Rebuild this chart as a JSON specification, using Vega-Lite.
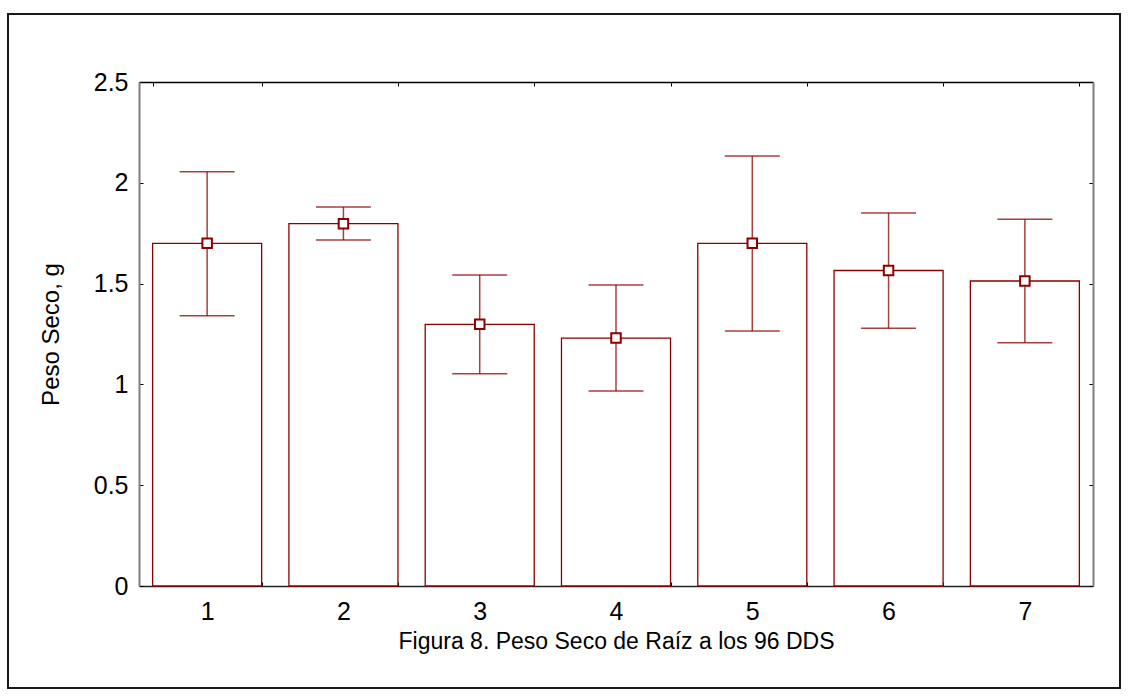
{
  "$schema": "https://vega.github.io/schema/vega-lite/v6.json",
  "autosize": "none",
  "width": 1112,
  "height": 674,
  "padding": {"left": 8, "top": 14, "right": 10, "bottom": 9},
  "background": "white",
  "config": {
    "view": {"stroke": "#1a1a1a", "strokeWidth": 2},
    "font": "Liberation Sans",
    "axis": {"labelFont": "Liberation Sans", "titleFont": "Liberation Sans", "labelColor": "#000", "titleColor": "#000", "titleFontWeight": "normal", "grid": false}
  },
  "data": {
    "values": [
      {"g": "1", "mean": 1.70, "lo": 1.340, "hi": 2.055},
      {"g": "2", "mean": 1.797, "lo": 1.716, "hi": 1.880},
      {"g": "3", "mean": 1.298, "lo": 1.053, "hi": 1.543},
      {"g": "4", "mean": 1.230, "lo": 0.967, "hi": 1.493},
      {"g": "5", "mean": 1.700, "lo": 1.265, "hi": 2.133},
      {"g": "6", "mean": 1.565, "lo": 1.278, "hi": 1.850},
      {"g": "7", "mean": 1.513, "lo": 1.207, "hi": 1.819}
    ]
  },
  "resolve": {"axis": {"x": "independent", "y": "independent"}},
  "layer": [
    {
      "mark": {"type": "bar", "fill": "white", "stroke": "#8b0000", "strokeWidth": 1.3},
      "encoding": {
        "x": {"field": "g", "type": "nominal", "sort": null,
          "scale": {"range": [131, 1085], "paddingInner": 0.2, "paddingOuter": 0.1},
          "axis": {"orient": "bottom", "offset": -102, "labelAngle": 0, "labelFontSize": 25, "labelPadding": 17,
            "tickBand": "extent", "tickSize": -4, "tickColor": "#000", "domainColor": "#222", "domainWidth": 1.5,
            "title": "Figura 8. Peso Seco de Raíz a los 96 DDS", "titleFontSize": 23, "titlePadding": 6}},
        "y": {"field": "mean", "type": "quantitative",
          "scale": {"domain": [0, 2.5], "range": [572, 68], "nice": false, "zero": true},
          "axis": {"orient": "left", "offset": -131, "values": [0, 0.5, 1, 1.5, 2, 2.5], "format": "~g",
            "labelFontSize": 25, "labelPadding": 15, "tickSize": -4, "tickColor": "#000",
            "domainColor": "#7f7f7f", "domainWidth": 2,
            "title": "Peso Seco, g", "titleFontSize": 24, "titlePadding": 30}}
      }
    },
    {
      "mark": {"type": "rule", "stroke": "#8b0000", "strokeWidth": 1.5, "opacity": 0.75},
      "encoding": {
        "x": {"field": "g", "type": "nominal", "sort": null,
          "axis": {"orient": "top", "offset": -68, "labels": false, "title": null, "tickBand": "extent", "tickSize": -4,
            "tickColor": "#000", "domainColor": "#000", "domainWidth": 1.5}},
        "y": {"field": "lo", "type": "quantitative",
          "axis": {"orient": "right", "offset": -27, "labels": false, "title": null, "values": [0, 0.5, 1, 1.5, 2, 2.5],
            "tickSize": -4, "tickColor": "#000", "domainColor": "#7f7f7f", "domainWidth": 2}},
        "y2": {"field": "hi"}
      }
    },
    {
      "mark": {"type": "tick", "color": "#8b0000", "size": 55, "thickness": 1.5, "opacity": 0.75},
      "encoding": {
        "x": {"field": "g", "type": "nominal", "sort": null, "axis": null},
        "y": {"field": "lo", "type": "quantitative", "axis": null}
      }
    },
    {
      "mark": {"type": "tick", "color": "#8b0000", "size": 55, "thickness": 1.5, "opacity": 0.75},
      "encoding": {
        "x": {"field": "g", "type": "nominal", "sort": null, "axis": null},
        "y": {"field": "hi", "type": "quantitative", "axis": null}
      }
    },
    {
      "mark": {"type": "point", "shape": "square", "size": 90, "filled": false, "fill": "white", "fillOpacity": 1, "stroke": "#8b0000", "strokeWidth": 2, "opacity": 1},
      "encoding": {
        "x": {"field": "g", "type": "nominal", "sort": null, "axis": null},
        "y": {"field": "mean", "type": "quantitative", "axis": null}
      }
    }
  ]
}
